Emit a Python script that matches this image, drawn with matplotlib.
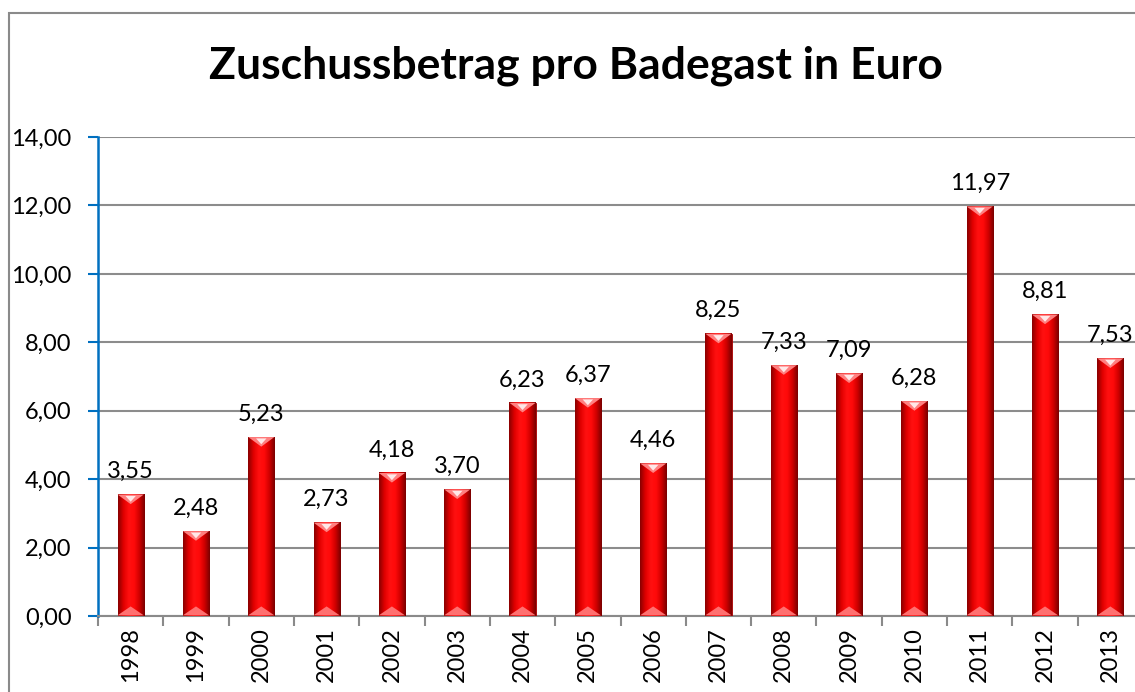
import matplotlib
matplotlib.use("Agg")
import matplotlib.pyplot as plt
import numpy as np
from matplotlib.colors import LinearSegmentedColormap
from matplotlib.patches import Polygon, Rectangle

plt.rcParams['font.family'] = ['Lato', 'DejaVu Sans']

# ---------------- data ----------------
years = ['1998', '1999', '2000', '2001', '2002', '2003', '2004', '2005',
         '2006', '2007', '2008', '2009', '2010', '2011', '2012', '2013']
values = [3.55, 2.48, 5.23, 2.73, 4.18, 3.70, 6.23, 6.37,
          4.46, 8.25, 7.33, 7.09, 6.28, 11.97, 8.81, 7.53]
yticks = [0, 2, 4, 6, 8, 10, 12, 14]

W, H = 1135, 692
fig = plt.figure(figsize=(W / 100, H / 100), dpi=100)
ax = fig.add_axes([98 / W, 1 - 616 / H, (1143 - 98) / W, (616 - 137) / H])

# frame around the chart (cropped at right/bottom)
fig.patches.append(Rectangle((8.5 / W, -0.1), 2, 1 - 12.5 / H + 0.1,
                             transform=fig.transFigure, fill=False,
                             edgecolor='#8a8a8a', lw=1.5))

fig.text(576 / W, 1 - 66 / H, 'Zuschussbetrag pro Badegast in Euro',
         ha='center', va='center', fontsize=32, fontweight='bold')

x = np.arange(len(years))
bw = 0.4
bars = ax.bar(x, values, width=bw, color='#ff0000', edgecolor='#a00000',
              lw=0.6, zorder=3)

# shading across each bar
cmap = LinearSegmentedColormap.from_list(
    'bevel', ['#8a0000', '#e00000', '#ff1010', '#ff0a0a', '#d00000', '#7a0000'])
grad = np.linspace(0, 1, 64).reshape(1, -1)
d = 0.28
for xi, v, b in zip(x, values, bars):
    ax.imshow(grad, extent=[xi - bw / 2, xi + bw / 2, 0, v], aspect='auto',
              cmap=cmap, zorder=3.5, clip_path=b, clip_on=True)
    # top bevel
    ax.add_patch(Polygon([[xi - bw / 2, v], [xi + bw / 2, v], [xi, v - d]],
                         closed=True, fc='#ff8080', ec='none', zorder=4))
    ax.add_patch(Polygon([[xi - bw / 5, v - 0.04], [xi + bw / 5, v - 0.04], [xi, v - d * 0.75]],
                         closed=True, fc='#ffe8e8', ec='none', zorder=4))
    # bottom bevel
    ax.add_patch(Polygon([[xi - bw / 2, 0.02], [xi + bw / 2, 0.02], [xi, d]],
                         closed=True, fc='#ff7070', ec='none', zorder=4))
    ax.annotate(f'{v:.2f}'.replace('.', ','), (xi, v), xytext=(0, 9),
                textcoords='offset points', ha='center', va='bottom',
                fontsize=17)

ax.set_xlim(-0.5, len(years) - 0.5)
ax.set_ylim(0, 14)
ax.set_yticks(yticks)
ax.set_yticklabels([f'{t:.2f}'.replace('.', ',') for t in yticks], fontsize=17)
ax.set_xticks(x)
ax.set_xticklabels(years, rotation=90, fontsize=17)
ax.set_xticks(np.arange(-0.5, len(years), 1.0), minor=True)
ax.tick_params(axis='x', which='major', length=0, pad=8)
ax.tick_params(axis='x', which='minor', length=7, width=1.5, color='#8a8a8a')
ax.tick_params(axis='y', length=7, width=1.5, color='#0070c0', pad=12)

ax.grid(axis='y', color='#8c8c8c', lw=1.5, zorder=0)
ax.set_axisbelow(True)
for s in ['top', 'right']:
    ax.spines[s].set_visible(False)
ax.spines['left'].set_color('#0070c0')
ax.spines['left'].set_linewidth(1.8)
ax.spines['bottom'].set_color('#8a8a8a')
ax.spines['bottom'].set_linewidth(1.5)

fig.savefig('out.png', dpi=100)
